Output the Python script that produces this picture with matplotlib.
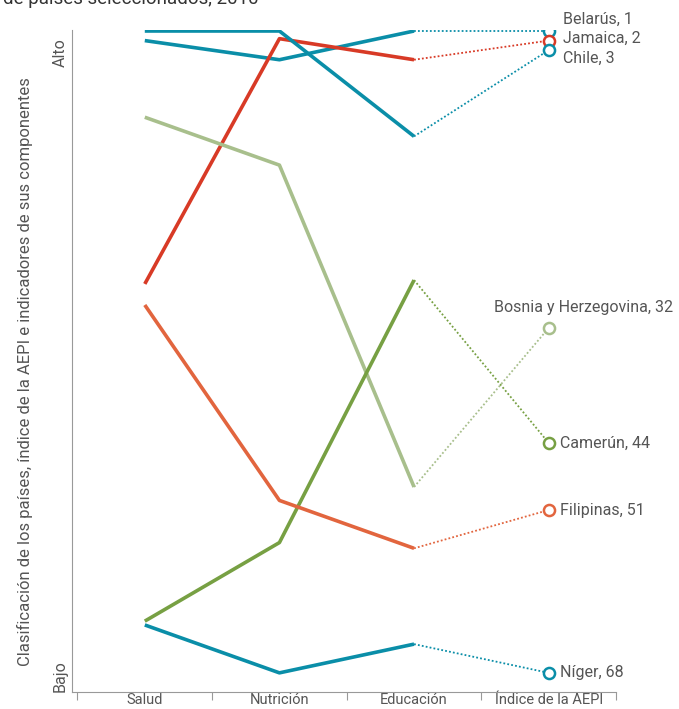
import matplotlib
matplotlib.use("Agg")
import matplotlib.pyplot as plt

plt.rcParams['font.family'] = ['Roboto', 'DejaVu Sans']

categories = ["Salud", "Nutrición", "Educación", "Índice de la AEPI"]
countries = ["Belarús", "Jamaica", "Chile", "Bosnia y Herzegovina", "Camerún", "Filipinas", "Níger"]
salud     = [2, 27.4, 1, 10, 62.6, 29.6, 63]
nutricion = [4, 1.8, 1, 15, 54.4, 50, 68]
educacion = [1, 4, 12, 48.6, 27, 55, 65]
indice    = [1, 2, 3, 32, 44, 51, 68]
colors = ["#0a8ea8", "#d83a26", "#0a8ea8", "#a8bf8c", "#77a043", "#e2653e", "#0a8ea8"]
# label offsets (points)
offsets = [(10, 8.6), (10, 1.4), (10, -5.8), (25, 15), (8, 0), (8, 0), (8, 0)]
has = ["left", "left", "left", "center", "left", "left", "left"]

W, H = 679, 709
fig = plt.figure(figsize=(W / 100, H / 100), dpi=100)
ax_l, ax_r, ax_t, ax_b = 72, 616, 30, 692
ax = fig.add_axes([ax_l / W, 1 - ax_b / H, (ax_r - ax_l) / W, (ax_b - ax_t) / H])

px_per_x = 135.0
x0 = 145.0
ax.set_xlim(-(x0 - ax_l) / px_per_x, (ax_r - x0) / px_per_x)
px_per_r = 9.58
r0 = 31.0
ax.set_ylim(1 + (ax_b - r0) / px_per_r, 1 + (ax_t - r0) / px_per_r)

text_color = "#555555"
for i, name in enumerate(countries):
    c = colors[i]
    ax.plot([0, 1, 2], [salud[i], nutricion[i], educacion[i]], color=c, lw=2.6,
            solid_capstyle="butt", zorder=3)
    ax.plot([2, 3], [educacion[i], indice[i]], color=c, lw=1.3, ls=(0, (1, 1.2)), zorder=2)
    ax.plot([3], [indice[i]], marker="o", ms=8, mfc="white", mec=c, mew=1.8, zorder=4)
    ax.annotate(f"{name}, {indice[i]}", xy=(3, indice[i]), xytext=offsets[i],
                textcoords="offset points", ha=has[i], va="center",
                fontsize=11.5, color=text_color)

for s in ["top", "right"]:
    ax.spines[s].set_visible(False)
for s in ["left", "bottom"]:
    ax.spines[s].set_color("#999999")
    ax.spines[s].set_linewidth(0.8)

ax.set_xticks([-0.5, 0.5, 1.5, 2.5, 3.5])
ax.set_xticklabels([])
ax.set_xticks([0, 1, 2, 3], minor=True)
ax.set_xticklabels(categories, minor=True, fontsize=10.5, color=text_color)
ax.tick_params(axis="x", which="major", length=6, color="#999999", width=0.8)
ax.tick_params(axis="x", which="minor", length=0, pad=1)

ax.set_yticks([])
fig.text((ax_l - 12) / W, 1 - ax_t / H - 0.012, "Alto", rotation=90, ha="center", va="top",
         fontsize=11.5, color=text_color)
fig.text((ax_l - 12) / W, 1 - ax_b / H, "Bajo", rotation=90, ha="center", va="bottom",
         fontsize=11.5, color=text_color)
fig.text(25 / W, 1 - 372 / H,
         "Clasificación de los países, índice de la AEPI e indicadores de sus componentes",
         rotation=90, ha="center", va="center", fontsize=12, color=text_color)

fig.text(3 / W, 1 - 4 / H, "de países seleccionados, 2010", ha="left", va="baseline",
         fontsize=13.5, color="#333333")

fig.savefig("out.png", dpi=100)
